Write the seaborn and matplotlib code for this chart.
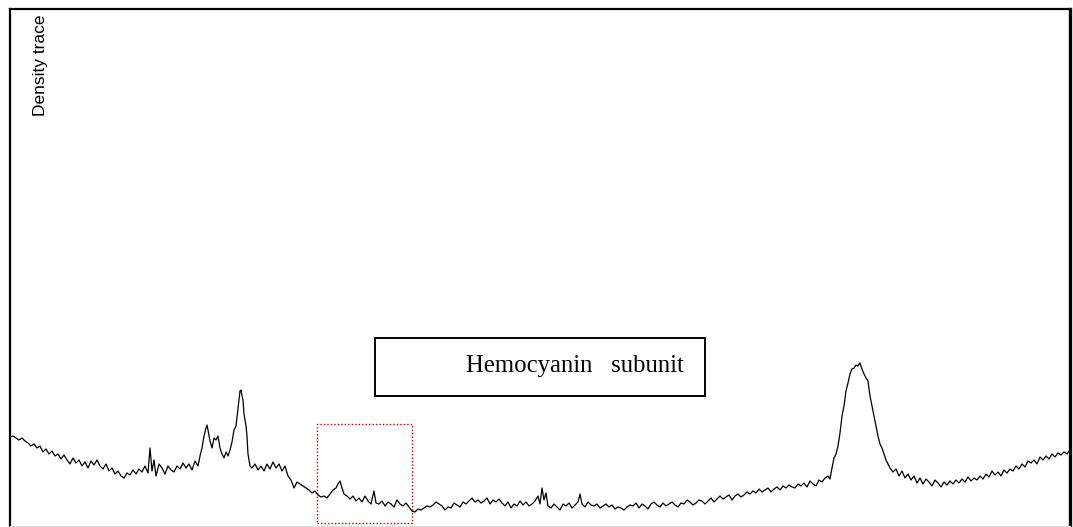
import matplotlib
matplotlib.use("Agg")
import matplotlib.pyplot as plt
import matplotlib.patches as mpatches
import seaborn as sns
import pandas as pd

# Migration distance along the lane (px) and the scanned optical density
migration = [
    10, 13, 16, 19, 22, 25, 28, 31, 34, 37, 40, 43, 46, 49, 52, 55, 58, 61, 64, 67,
    70, 73, 76, 79, 82, 85, 88, 91, 94, 97, 100, 103, 106, 109, 112, 115, 118, 121, 124, 127,
    130, 133, 136, 139, 142, 145, 148, 150, 152, 154, 156, 159, 162, 165, 168, 171, 174, 177, 180, 183,
    186, 189, 192, 195, 198, 200, 202, 204, 206, 207, 208, 210, 212, 214, 216, 218, 220, 222, 224, 226,
    228, 230, 232, 234, 236, 238, 240, 241, 242, 243, 244, 246, 247, 248, 250, 252, 255, 258, 261, 264,
    267, 270, 273, 276, 279, 282, 285, 288, 291, 294, 297, 300, 303, 306, 309, 312, 315, 318, 321, 324,
    327, 330, 333, 336, 338, 340, 342, 344, 347, 350, 353, 356, 359, 362, 365, 368, 371, 374, 376, 379,
    382, 385, 388, 391, 394, 397, 400, 403, 406, 409, 412, 415, 418, 421, 424, 427, 430, 433, 436, 439,
    442, 445, 448, 451, 454, 457, 460, 463, 466, 469, 472, 475, 478, 481, 484, 487, 490, 493, 496, 499,
    502, 505, 508, 511, 514, 517, 520, 523, 526, 529, 532, 535, 538, 540, 542, 544, 546, 548, 551, 554,
    557, 560, 563, 566, 569, 572, 575, 578, 580, 582, 585, 588, 591, 594, 597, 600, 603, 606, 609, 612,
    615, 618, 621, 624, 627, 630, 633, 636, 639, 642, 645, 648, 651, 654, 657, 660, 663, 666, 669, 672,
    675, 678, 681, 684, 687, 690, 693, 696, 699, 702, 705, 708, 711, 714, 717, 720, 723, 726, 729, 732,
    735, 738, 741, 744, 747, 750, 753, 756, 759, 762, 765, 768, 771, 774, 777, 780, 783, 786, 789, 792,
    795, 798, 801, 804, 807, 810, 813, 816, 819, 822, 825, 828, 830, 832, 834, 836, 838, 840, 842, 844,
    846, 848, 850, 852, 854, 856, 858, 860, 862, 864, 866, 868, 870, 872, 874, 876, 878, 880, 882, 884,
    886, 888, 890, 893, 896, 899, 902, 905, 908, 911, 914, 917, 920, 923, 926, 929, 932, 935, 938, 941,
    944, 947, 950, 953, 956, 959, 962, 965, 968, 971, 974, 977, 980, 983, 986, 989, 992, 995, 998, 1001,
    1004, 1007, 1010, 1013, 1016, 1019, 1022, 1025, 1028, 1031, 1034, 1037, 1040, 1043, 1046, 1049, 1052, 1055, 1058, 1061,
    1064, 1067, 1069,
]
density = [
    89, 90, 88, 86, 88, 85, 83, 80, 82, 78, 80, 74, 77, 72, 75, 70, 72, 67, 71, 66,
    62, 68, 63, 66, 60, 64, 58, 65, 61, 66, 60, 57, 62, 55, 58, 52, 55, 50, 48, 53,
    51, 56, 52, 57, 54, 60, 53, 78, 55, 66, 50, 62, 58, 52, 60, 56, 54, 60, 57, 63,
    58, 62, 56, 65, 60, 70, 78, 90, 98, 101, 96, 85, 78, 88, 86, 90, 78, 72, 68, 74,
    70, 76, 84, 96, 100, 118, 135, 136, 130, 126, 112, 100, 90, 72, 60, 58, 62, 56, 60, 55,
    62, 57, 64, 58, 62, 55, 60, 50, 46, 38, 44, 42, 40, 38, 36, 33, 35, 31, 29, 30,
    28, 32, 36, 38, 42, 45, 38, 32, 30, 27, 30, 25, 28, 24, 30, 25, 22, 35, 23, 22,
    25, 20, 24, 22, 19, 26, 22, 20, 23, 19, 15, 14, 17, 16, 18, 20, 19, 21, 24, 22,
    20, 16, 19, 18, 23, 21, 19, 24, 22, 25, 28, 24, 26, 23, 25, 28, 22, 26, 24, 27,
    23, 20, 24, 18, 22, 20, 25, 21, 24, 20, 22, 25, 30, 22, 38, 26, 33, 20, 18, 22,
    19, 16, 22, 20, 23, 18, 21, 24, 32, 22, 19, 24, 21, 20, 22, 18, 20, 22, 19, 21,
    17, 19, 18, 16, 19, 21, 20, 23, 18, 22, 20, 17, 22, 24, 21, 19, 23, 20, 22, 24,
    21, 19, 23, 22, 26, 24, 21, 23, 26, 25, 22, 25, 28, 24, 27, 30, 27, 29, 31, 26,
    30, 32, 29, 31, 34, 32, 35, 33, 37, 34, 36, 38, 34, 37, 39, 36, 40, 38, 41, 39,
    38, 42, 40, 43, 39, 45, 42, 40, 46, 44, 48, 50, 47, 58, 68, 72, 80, 93, 110, 120,
    135, 143, 152, 157, 158, 161, 160, 163, 157, 152, 148, 145, 130, 120, 110, 100, 90, 82, 78, 72,
    66, 62, 58, 54, 57, 50, 55, 48, 52, 46, 50, 43, 48, 42, 47, 44, 40, 46, 43, 39,
    44, 41, 45, 42, 46, 43, 47, 44, 49, 45, 48, 46, 50, 47, 52, 49, 55, 51, 54, 50,
    56, 53, 57, 55, 60, 57, 62, 59, 65, 63, 66, 62, 69, 66, 70, 67, 72, 69, 73, 71,
    74, 72, 75,
]

# Marked regions on the trace
zoom_label = "Hemocyanin   subunit"
axis_label = "Density trace"

trace = pd.DataFrame({"migration": migration, "density": density})

sns.set_style("white")

fig = plt.figure(figsize=(10.73, 5.27), dpi=100)
ax = fig.add_axes([10 / 1073, 1 / 527, 1060 / 1073, 517 / 527])

sns.lineplot(data=trace, x="migration", y="density", ax=ax,
             color="black", linewidth=0.9, estimator=None, sort=False)

ax.set_xlim(10, 1070)
ax.set_ylim(0, 517)
ax.set_xticks([])
ax.set_yticks([])
ax.set_xlabel("")
ax.set_ylabel("")

for side in ("left", "top", "right"):
    ax.spines[side].set_color("black")
    ax.spines[side].set_linewidth(1.6)
ax.spines["right"].set_linewidth(2.4)
ax.spines["bottom"].set_color("#dddddd")
ax.spines["bottom"].set_linewidth(1.0)

# Rotated axis caption in the top-left corner
ax.text(40, 511, axis_label, rotation=90, ha="center", va="top",
        fontsize=12.5, family="Liberation Sans", color="black")

# Framed label for the protein band
ax.add_patch(mpatches.Rectangle((375, 130), 330, 58, fill=False,
                                edgecolor="black", linewidth=1.4))
ax.text(466, 160, zoom_label, ha="left", va="center",
        fontsize=17.8, family="Liberation Serif", color="black")

# Dotted window around the faint band
ax.add_patch(mpatches.Rectangle((317, 3), 95, 99, fill=False,
                                edgecolor="#cc0000", linewidth=1.0,
                                linestyle=(0, (1, 1.5))))

fig.savefig("out.png", dpi=100)
